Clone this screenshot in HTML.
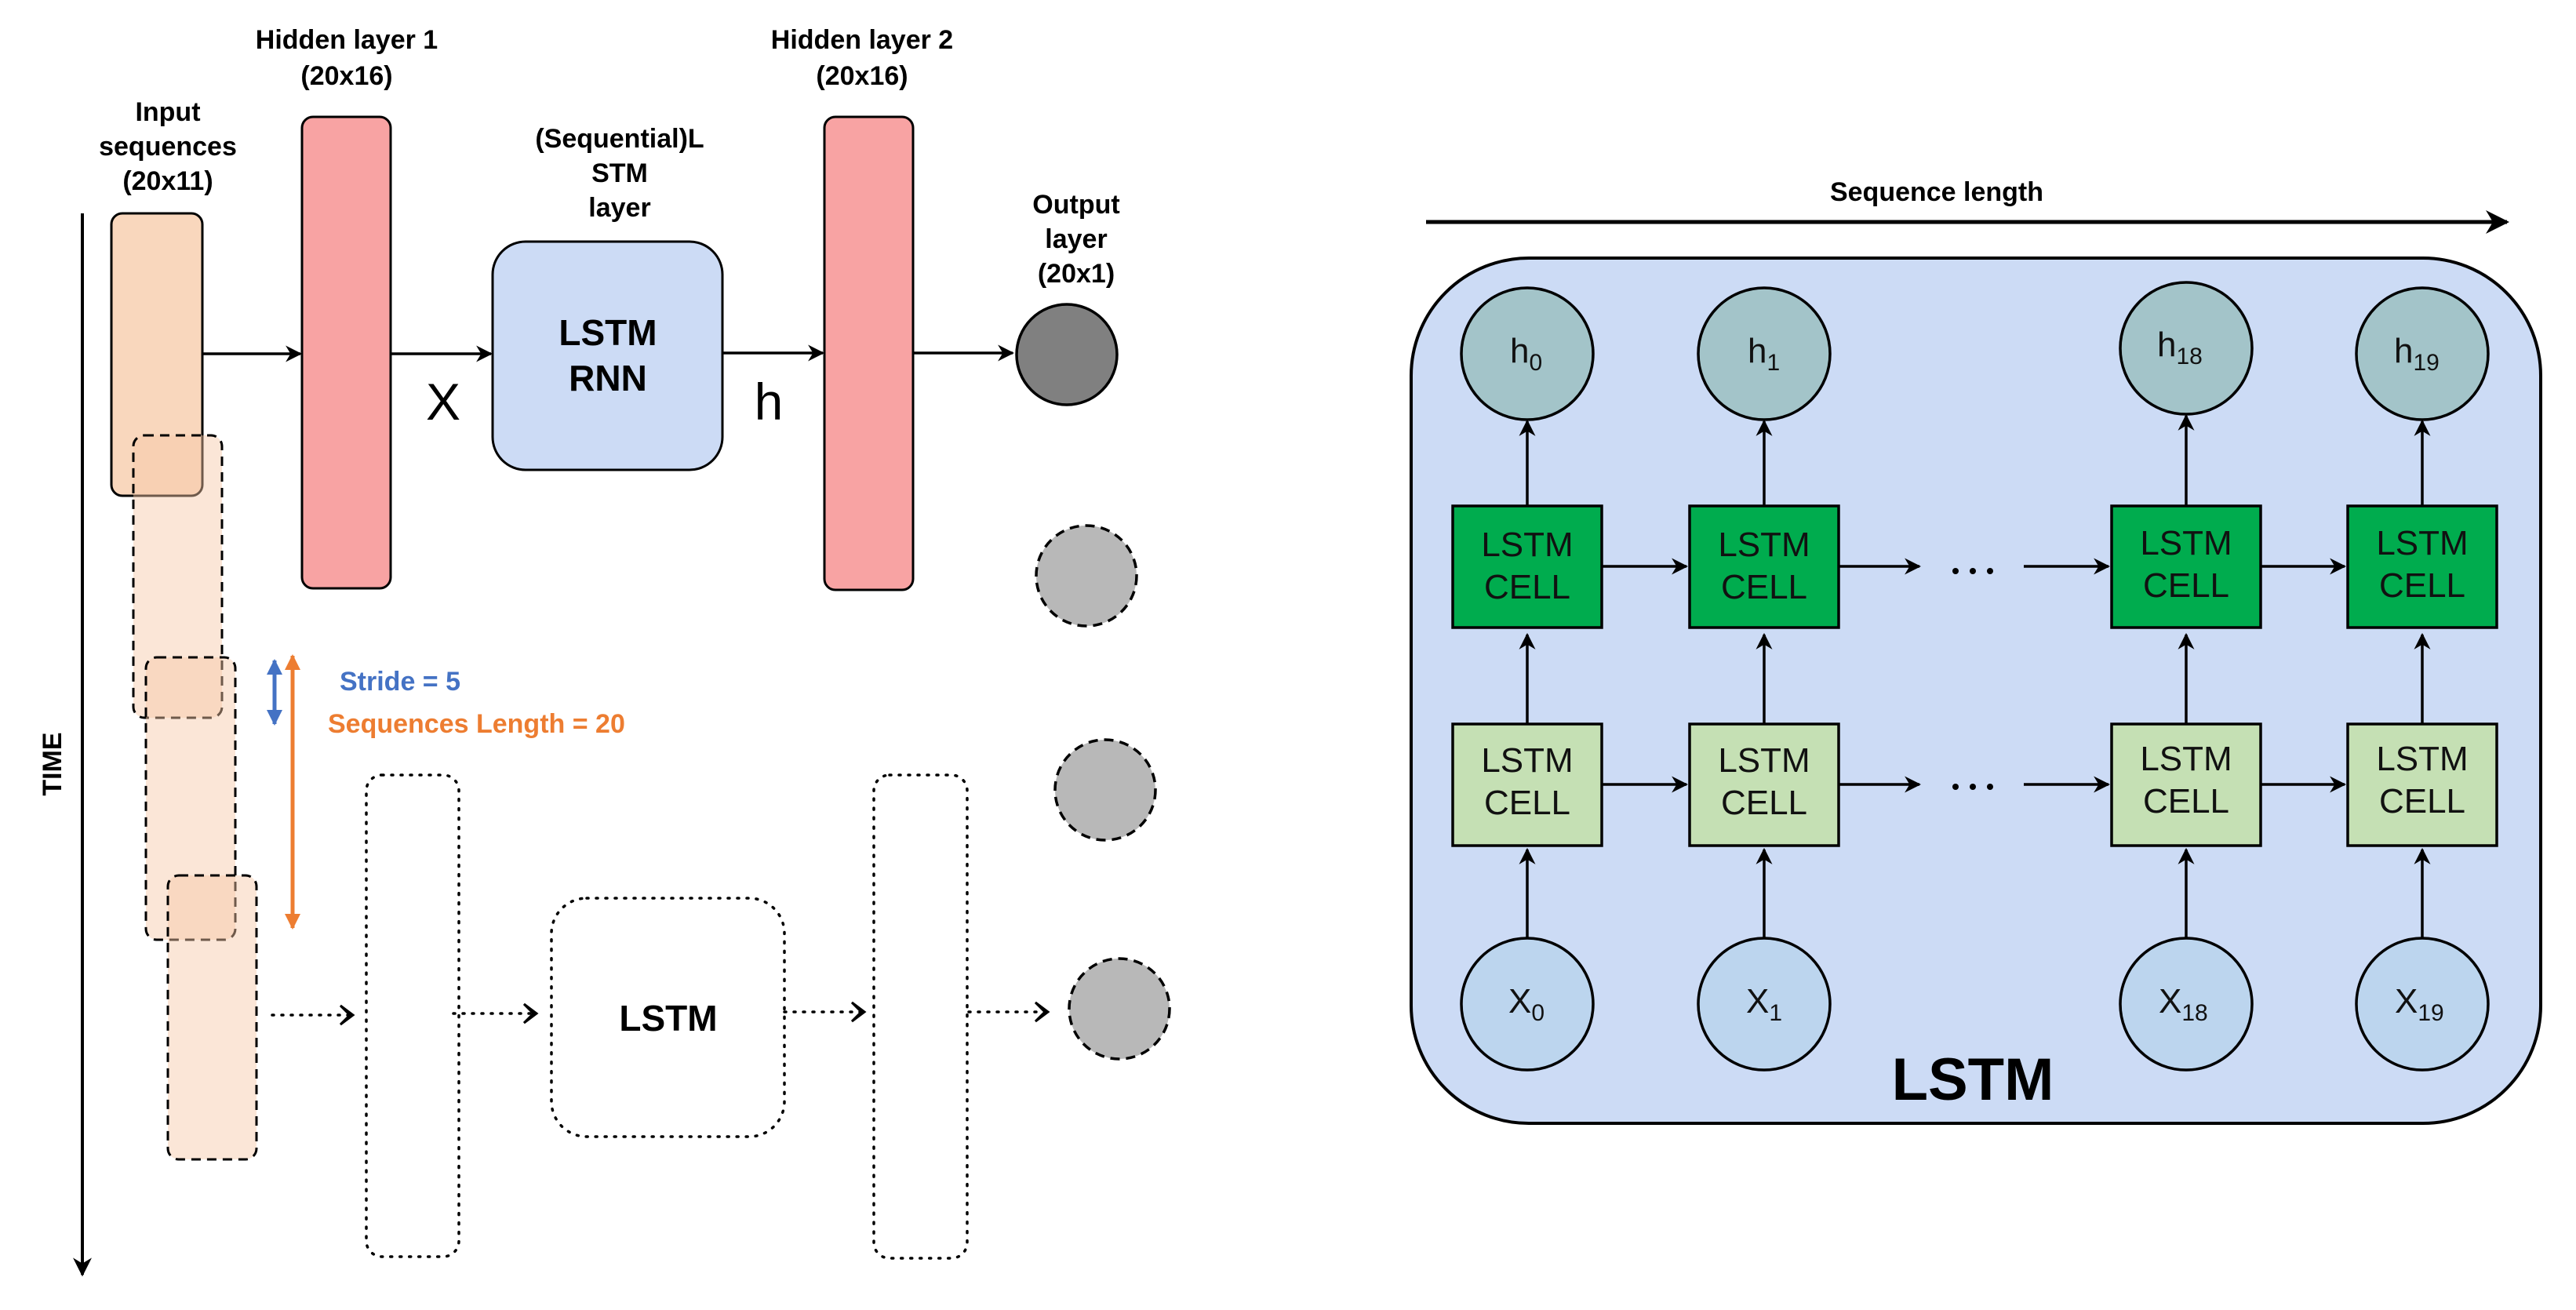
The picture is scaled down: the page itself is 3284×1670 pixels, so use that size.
<!DOCTYPE html>
<html><head><meta charset="utf-8"><style>
html,body{margin:0;padding:0;background:#fff;}
svg{display:block;}
text{font-family:"Liberation Sans",sans-serif;}
</style></head><body>
<svg width="3284" height="1670" viewBox="0 0 3284 1670" xmlns="http://www.w3.org/2000/svg">
<defs>
<marker id="a" viewBox="0 0 10 10" refX="9" refY="5" markerWidth="6" markerHeight="6" orient="auto-start-reverse" markerUnits="strokeWidth"><path d="M0,0 L10,5 L0,10 L3,5 z" fill="#000"/></marker>
<marker id="ab" viewBox="0 0 10 10" refX="9" refY="5" markerWidth="4" markerHeight="4" orient="auto-start-reverse" markerUnits="strokeWidth"><path d="M0,0 L10,5 L0,10 z" fill="#4472c4"/></marker>
<marker id="ao" viewBox="0 0 10 10" refX="9" refY="5" markerWidth="4" markerHeight="4" orient="auto-start-reverse" markerUnits="strokeWidth"><path d="M0,0 L10,5 L0,10 z" fill="#ed7d31"/></marker>
</defs>

<line x1="105" y1="272" x2="105" y2="1625" stroke="#000" stroke-width="4" marker-end="url(#a)"/>
<text x="0" y="0" transform="translate(78,974) rotate(-90)" font-size="34" font-weight="bold" text-anchor="middle">TIME</text>

<rect x="142" y="272" width="116" height="360" rx="14" fill="#f9d7bd" stroke="#000" stroke-width="3"/>
<rect x="170" y="555" width="113" height="360" rx="14" fill="rgba(247,200,166,0.45)" stroke="#000" stroke-width="3" stroke-dasharray="12,8"/>
<rect x="186" y="838" width="114" height="360" rx="14" fill="rgba(247,200,166,0.45)" stroke="#000" stroke-width="3" stroke-dasharray="12,8"/>
<rect x="214" y="1116" width="113" height="362" rx="14" fill="rgba(247,200,166,0.45)" stroke="#000" stroke-width="3" stroke-dasharray="12,8"/>

<g font-size="34" font-weight="bold" text-anchor="middle">
<text x="442" y="62">Hidden layer 1</text>
<text x="442" y="108">(20x16)</text>
<text x="214" y="154">Input</text>
<text x="214" y="198">sequences</text>
<text x="214" y="242">(20x11)</text>
<text x="790" y="188">(Sequential)L</text>
<text x="790" y="232">STM</text>
<text x="790" y="276">layer</text>
<text x="1099" y="62">Hidden layer 2</text>
<text x="1099" y="108">(20x16)</text>
<text x="1372" y="272">Output</text>
<text x="1372" y="316">layer</text>
<text x="1372" y="360">(20x1)</text>
</g>

<rect x="385" y="149" width="113" height="601" rx="14" fill="#f8a3a3" stroke="#000" stroke-width="3"/>
<rect x="1051" y="149" width="113" height="603" rx="14" fill="#f8a3a3" stroke="#000" stroke-width="3"/>
<rect x="628" y="308" width="293" height="291" rx="42" fill="#ccdbf5" stroke="#000" stroke-width="3"/>
<text x="775" y="440" font-size="46" font-weight="bold" text-anchor="middle">LSTM</text>
<text x="775" y="498" font-size="46" font-weight="bold" text-anchor="middle">RNN</text>
<text x="565" y="535" font-size="66" text-anchor="middle">X</text>
<text x="980" y="535" font-size="66" text-anchor="middle">h</text>

<g stroke="#000" stroke-width="3.5" marker-end="url(#a)">
<line x1="258" y1="451" x2="383" y2="451"/>
<line x1="498" y1="451" x2="626" y2="451"/>
<line x1="921" y1="450" x2="1049" y2="450"/>
<line x1="1164" y1="450" x2="1291" y2="450"/>
</g>

<ellipse cx="1360" cy="452" rx="64" ry="64" fill="#808080" stroke="#000" stroke-width="3.5"/>
<ellipse cx="1385" cy="734" rx="64" ry="64" fill="#b8b8b8" stroke="#000" stroke-width="3.5" stroke-dasharray="12,8"/>
<ellipse cx="1409" cy="1007" rx="64" ry="64" fill="#b8b8b8" stroke="#000" stroke-width="3.5" stroke-dasharray="12,8"/>
<ellipse cx="1427" cy="1286" rx="64" ry="64" fill="#b8b8b8" stroke="#000" stroke-width="3.5" stroke-dasharray="12,8"/>

<line x1="350" y1="842" x2="350" y2="923" stroke="#4472c4" stroke-width="5" marker-start="url(#ab)" marker-end="url(#ab)"/>
<line x1="373" y1="836" x2="373" y2="1183" stroke="#ed7d31" stroke-width="5" marker-start="url(#ao)" marker-end="url(#ao)"/>
<text x="433" y="880" font-size="34" font-weight="bold" fill="#4472c4">Stride = 5</text>
<text x="418" y="934" font-size="34" font-weight="bold" fill="#ed7d31">Sequences Length = 20</text>

<g fill="none" stroke="#000" stroke-width="3.5" stroke-dasharray="2,10" stroke-linecap="round">
<rect x="467" y="988" width="118" height="614" rx="20"/>
<rect x="703" y="1145" width="297" height="304" rx="45"/>
<rect x="1114" y="988" width="119" height="616" rx="20"/>
<line x1="347" y1="1294" x2="455" y2="1294"/>
<line x1="578" y1="1292" x2="685" y2="1292"/>
<line x1="1000" y1="1290" x2="1100" y2="1290"/>
<line x1="1235" y1="1290" x2="1328" y2="1290"/>
</g>
<g fill="#000">
<path d="M446,1294 l-12,-12 l16,12 l-16,12z" stroke="#000" stroke-width="3"/>
<path d="M680,1292 l-12,-12 l16,12 l-16,12z" stroke="#000" stroke-width="3"/>
<path d="M1098,1290 l-12,-12 l16,12 l-16,12z" stroke="#000" stroke-width="3"/>
<path d="M1332,1290 l-12,-12 l16,12 l-16,12z" stroke="#000" stroke-width="3"/>
</g>
<text x="852" y="1314" font-size="46" font-weight="bold" text-anchor="middle">LSTM</text>

<text x="2469" y="256" font-size="34" font-weight="bold" text-anchor="middle">Sequence length</text>
<line x1="1818" y1="283" x2="3196" y2="283" stroke="#000" stroke-width="5" marker-end="url(#a)"/>
<rect x="1799" y="329" width="1440" height="1103" rx="150" fill="#ccdbf5" stroke="#000" stroke-width="4"/>

<g stroke="#000" stroke-width="3.5" marker-end="url(#a)">
<line x1="1947" y1="645" x2="1947" y2="537"/>
<line x1="2249" y1="645" x2="2249" y2="537"/>
<line x1="2787" y1="645" x2="2787" y2="530"/>
<line x1="3088" y1="645" x2="3088" y2="537"/>
<line x1="1947" y1="923" x2="1947" y2="809"/>
<line x1="2249" y1="923" x2="2249" y2="809"/>
<line x1="2787" y1="923" x2="2787" y2="809"/>
<line x1="3088" y1="923" x2="3088" y2="809"/>
<line x1="1947" y1="1195" x2="1947" y2="1083"/>
<line x1="2249" y1="1195" x2="2249" y2="1083"/>
<line x1="2787" y1="1195" x2="2787" y2="1083"/>
<line x1="3088" y1="1195" x2="3088" y2="1083"/>
<line x1="2042" y1="722" x2="2150" y2="722"/>
<line x1="2344" y1="722" x2="2447" y2="722"/>
<line x1="2580" y1="722" x2="2688" y2="722"/>
<line x1="2882" y1="722" x2="2989" y2="722"/>
<line x1="2042" y1="1000" x2="2150" y2="1000"/>
<line x1="2344" y1="1000" x2="2447" y2="1000"/>
<line x1="2580" y1="1000" x2="2688" y2="1000"/>
<line x1="2882" y1="1000" x2="2989" y2="1000"/>
</g>
<g fill="#000">
<circle cx="2493" cy="728" r="4"/><circle cx="2515" cy="728" r="4"/><circle cx="2537" cy="728" r="4"/>
<circle cx="2493" cy="1003" r="4"/><circle cx="2515" cy="1003" r="4"/><circle cx="2537" cy="1003" r="4"/>
</g>

<g stroke="#000" stroke-width="3.5">
<rect x="1852" y="645" width="190" height="155" fill="#00ac4e"/>
<rect x="2154" y="645" width="190" height="155" fill="#00ac4e"/>
<rect x="2692" y="645" width="190" height="155" fill="#00ac4e"/>
<rect x="2993" y="645" width="190" height="155" fill="#00ac4e"/>
<rect x="1852" y="923" width="190" height="155" fill="#c5e0b4"/>
<rect x="2154" y="923" width="190" height="155" fill="#c5e0b4"/>
<rect x="2692" y="923" width="190" height="155" fill="#c5e0b4"/>
<rect x="2993" y="923" width="190" height="155" fill="#c5e0b4"/>
<circle cx="1947" cy="451" r="84" fill="#a3c4c9"/>
<circle cx="2249" cy="451" r="84" fill="#a3c4c9"/>
<circle cx="2787" cy="444" r="84" fill="#a3c4c9"/>
<circle cx="3088" cy="451" r="84" fill="#a3c4c9"/>
<circle cx="1947" cy="1280" r="84" fill="#bcd5ee"/>
<circle cx="2249" cy="1280" r="84" fill="#bcd5ee"/>
<circle cx="2787" cy="1280" r="84" fill="#bcd5ee"/>
<circle cx="3088" cy="1280" r="84" fill="#bcd5ee"/>
</g>
<g font-size="44" text-anchor="middle" fill="#111">
<text x="1947" y="709">LSTM</text><text x="1947" y="763">CELL</text>
<text x="2249" y="709">LSTM</text><text x="2249" y="763">CELL</text>
<text x="2787" y="707">LSTM</text><text x="2787" y="761">CELL</text>
<text x="3088" y="707">LSTM</text><text x="3088" y="761">CELL</text>
<text x="1947" y="984">LSTM</text><text x="1947" y="1038">CELL</text>
<text x="2249" y="984">LSTM</text><text x="2249" y="1038">CELL</text>
<text x="2787" y="982">LSTM</text><text x="2787" y="1036">CELL</text>
<text x="3088" y="982">LSTM</text><text x="3088" y="1036">CELL</text>
</g>
<g font-size="44" fill="#111">
<text x="1925" y="462">h<tspan font-size="30" dy="10">0</tspan></text>
<text x="2228" y="462">h<tspan font-size="30" dy="10">1</tspan></text>
<text x="2750" y="454">h<tspan font-size="30" dy="10">18</tspan></text>
<text x="3052" y="462">h<tspan font-size="30" dy="10">19</tspan></text>
<text x="1923" y="1291">X<tspan font-size="30" dy="10">0</tspan></text>
<text x="2226" y="1291">X<tspan font-size="30" dy="10">1</tspan></text>
<text x="2752" y="1291">X<tspan font-size="30" dy="10">18</tspan></text>
<text x="3053" y="1291">X<tspan font-size="30" dy="10">19</tspan></text>
</g>
<text x="2515" y="1402" font-size="76" font-weight="bold" text-anchor="middle">LSTM</text>
</svg>
</body></html>
